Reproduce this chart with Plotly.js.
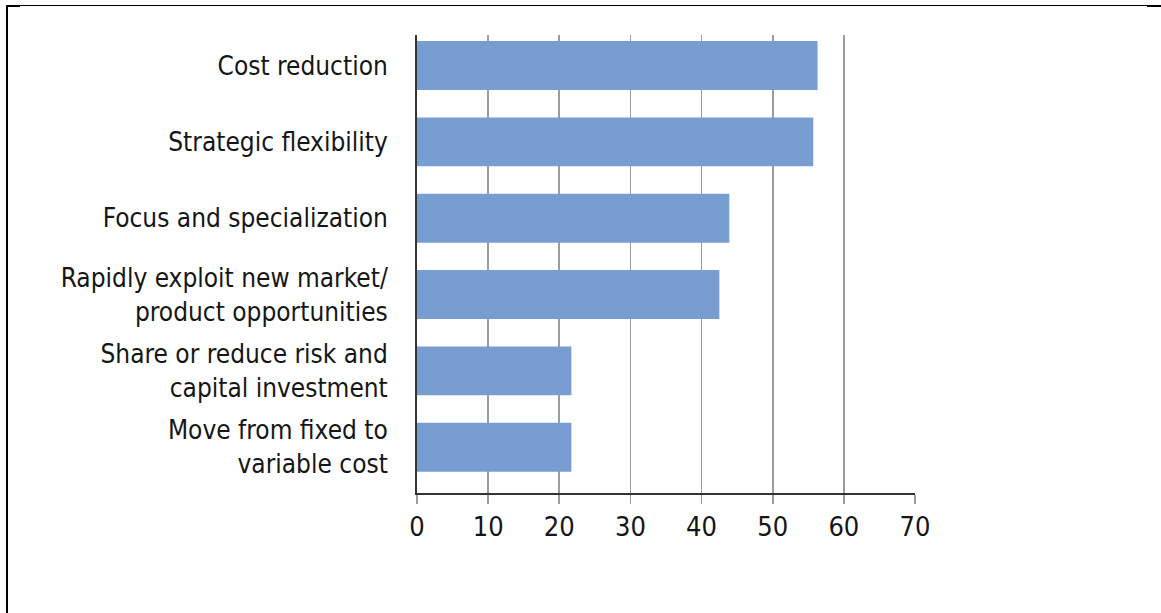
<!DOCTYPE html>
<html>
<head>
<meta charset="utf-8">
<script src="https://cdn.plot.ly/plotly-3.0.1.min.js"></script>
<style>
  html, body { margin: 0; padding: 0; background: #fff; }
  #wrap { position: relative; width: 1161px; height: 613px; overflow: hidden; }
  #chart { position: absolute; left: 0; top: 0; width: 1161px; height: 613px; }
  .frame-top { position: absolute; left: 6px; top: 5px; width: 1141px; height: 1px; background: #000; }
  .frame-tl { position: absolute; left: 6px; top: 5px; width: 14px; height: 2px; background: #000; }
  .frame-tr { position: absolute; left: 1147px; top: 5px; width: 14px; height: 2px; background: #000; }
  .frame-left { position: absolute; left: 6px; top: 5px; width: 2px; height: 608px; background: #000; }
</style>
</head>
<body>
<div id="wrap">
  <div id="chart"></div>
  <div class="frame-top"></div>
  <div class="frame-tl"></div>
  <div class="frame-tr"></div>
  <div class="frame-left"></div>
</div>
<script>
const categories = [
  "Cost reduction",
  "Strategic flexibility",
  "Focus and specialization",
  "Rapidly exploit new market/<br>product opportunities",
  "Share or reduce risk and<br>capital investment",
  "Move from fixed to<br>variable cost"
];
const values = [56.3, 55.7, 43.9, 42.5, 21.7, 21.7];
const xTicks = [0, 10, 20, 30, 40, 50, 60, 70];

const FONT = '"Liberation Sans Narrow", "DejaVu Sans Condensed", "Roboto Condensed", Arial, sans-serif';

const trace = {
  type: 'bar',
  orientation: 'h',
  x: values,
  y: categories,
  width: 0.64,
  marker: { color: '#789dd0', line: { width: 0 } },
  hoverinfo: 'none'
};

const layout = {
  width: 1161,
  height: 613,
  margin: { l: 417, r: 246, t: 35, b: 120 },
  paper_bgcolor: '#ffffff',
  plot_bgcolor: '#ffffff',
  showlegend: false,
  font: { family: FONT, color: '#161616', size: 26 },
  xaxis: {
    range: [0, 70],
    tickvals: xTicks,
    ticktext: xTicks.map(String),
    showgrid: true,
    gridcolor: '#9c9c9c',
    gridwidth: 1.8,
    zeroline: false,
    showline: true,
    linecolor: '#333333',
    linewidth: 2,
    ticks: 'outside',
    ticklen: 9,
    tickwidth: 1.8,
    tickcolor: '#9c9c9c',
    ticklabelstandoff: 0,
    tickfont: { family: FONT, size: 27, color: '#161616' },
    fixedrange: true
  },
  yaxis: {
    type: 'category',
    range: [5.6, -0.4],
    showgrid: false,
    zeroline: false,
    showline: true,
    linecolor: '#333333',
    linewidth: 2,
    ticks: '',
    ticklabelstandoff: 22,
    tickfont: { family: FONT, size: 26, color: '#161616' },
    fixedrange: true
  }
};

Plotly.newPlot('chart', [trace], layout, { displayModeBar: false, staticPlot: true });
</script>
</body>
</html>
